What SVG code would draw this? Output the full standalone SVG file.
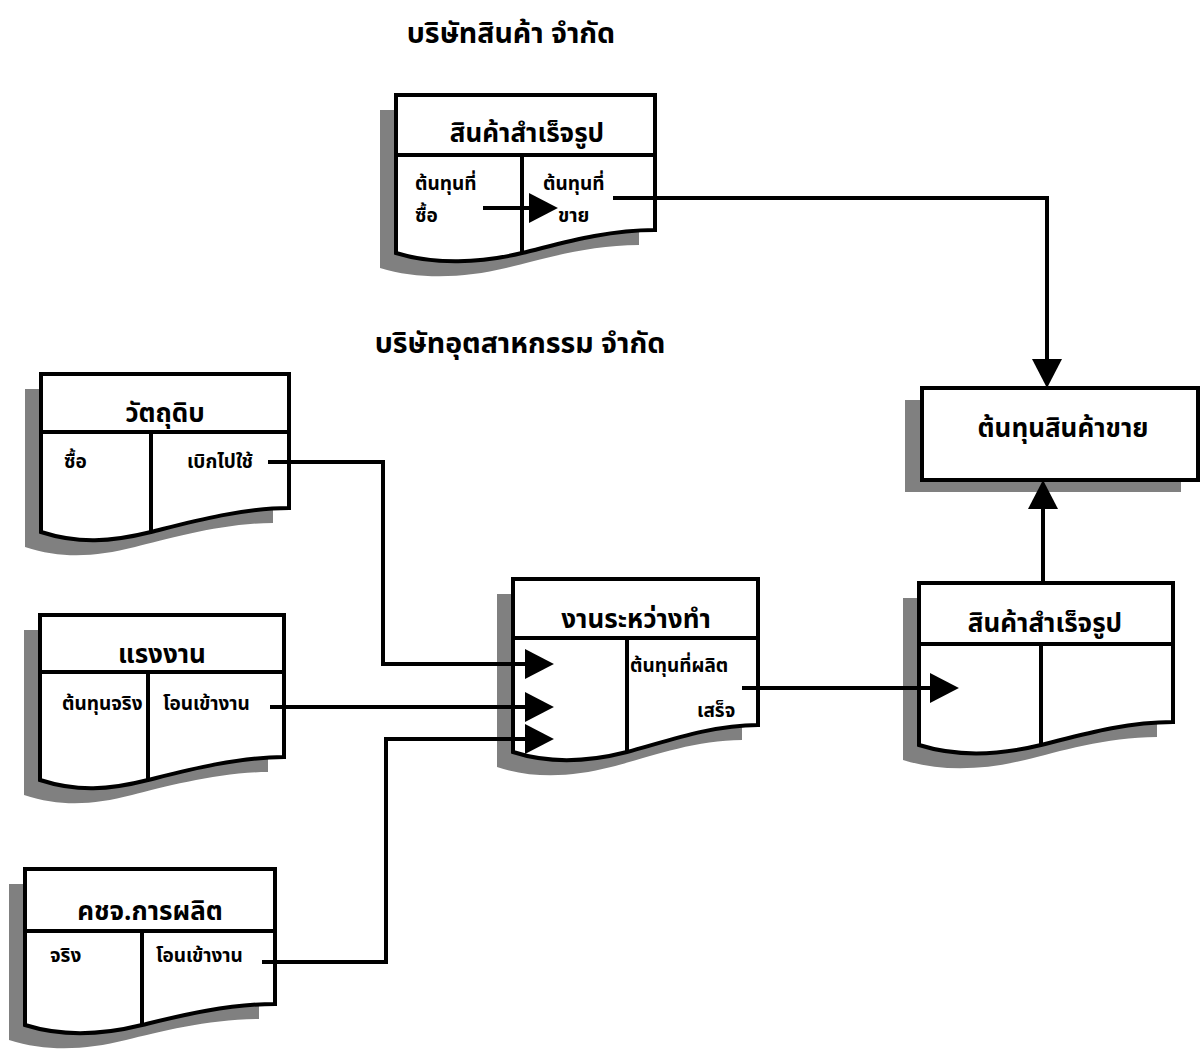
<svg xmlns="http://www.w3.org/2000/svg" xmlns:xlink="http://www.w3.org/1999/xlink" width="1200" height="1053" viewBox="0 0 1200 1053">
<style>
text{font-family:"Noto Sans Thai","Noto Sans","DejaVu Sans",sans-serif;font-weight:bold;fill:#000}
.title{font-size:28.5px;text-anchor:middle}
.hdr{font-size:26px;text-anchor:middle}
.cell{font-size:19px}
.shadow{fill:#808080;stroke:none}
.box{fill:#fff;stroke:#000;stroke-width:4;stroke-linejoin:miter}
.div{fill:none;stroke:#000;stroke-width:4}
.conn{fill:none;stroke:#000;stroke-width:4}
</style>
<defs>
<marker id="arr" markerUnits="userSpaceOnUse" markerWidth="30" markerHeight="30" refX="0" refY="14" orient="auto" viewBox="0 0 28 28">
<path d="M0,0 L27,14 L0,28 Z" fill="#000"/>
</marker>
<path id="p1" d="M396,95 H655 V230 C603,230 556,245 522,253 C481,263 435,265 396,253 Z"/>
<path id="p2" d="M41,374 H289 V508 C239,508 183,524 151,532 C111,542 78,544 41,532 Z"/>
<path id="p3" d="M40,615 H284 V757 C235,757 180,772 148,780 C109,790 77,792 40,780 Z"/>
<path id="p4" d="M25,869 H275 V1004 C225,1004 175,1017 142,1025 C102,1035 63,1037 25,1025 Z"/>
<path id="p5" d="M513,579 H758 V725 C709,725 659,744 627,752 C588,762 550,764 513,752 Z"/>
<path id="p6" d="M919,583 H1173 V722 C1122,722 1074,737 1041,745 C1000,755 957,757 919,745 Z"/>
</defs>
<rect width="1200" height="1053" fill="#fff"/>
<text class="title" x="511" y="43">บริษัทสินค้า จำกัด</text>
<text class="title" x="520" y="353">บริษัทอุตสาหกรรม จำกัด</text>

<g id="node-fg-trade">
<use xlink:href="#p1" class="shadow" transform="translate(-16,15)"/>
<use xlink:href="#p1" class="box"/>
<path class="div" d="M396,155 H655 M522,155 V253"/>
<text class="hdr" x="527" y="142">สินค้าสำเร็จรูป</text>
<text class="cell" x="415" y="190">ต้นทุนที่</text>
<text class="cell" x="415" y="222">ซื้อ</text>
<text class="cell" x="543" y="190">ต้นทุนที่</text>
<text class="cell" x="558" y="222">ขาย</text>
</g>

<g id="node-raw">
<use xlink:href="#p2" class="shadow" transform="translate(-16,15)"/>
<use xlink:href="#p2" class="box"/>
<path class="div" d="M41,432 H289 M151,432 V532"/>
<text class="hdr" x="165" y="422">วัตถุดิบ</text>
<text class="cell" x="64" y="468">ซื้อ</text>
<text class="cell" x="187" y="468">เบิกไปใช้</text>
</g>

<g id="node-labor">
<use xlink:href="#p3" class="shadow" transform="translate(-16,15)"/>
<use xlink:href="#p3" class="box"/>
<path class="div" d="M40,672 H284 M148,672 V780"/>
<text class="hdr" x="162" y="663">แรงงาน</text>
<text class="cell" x="62" y="710">ต้นทุนจริง</text>
<text class="cell" x="163" y="710">โอนเข้างาน</text>
</g>

<g id="node-overhead">
<use xlink:href="#p4" class="shadow" transform="translate(-16,15)"/>
<use xlink:href="#p4" class="box"/>
<path class="div" d="M25,931 H275 M142,931 V1025"/>
<text class="hdr" x="150" y="920">คชจ.การผลิต</text>
<text class="cell" x="50" y="962">จริง</text>
<text class="cell" x="156" y="962">โอนเข้างาน</text>
</g>

<g id="node-wip">
<use xlink:href="#p5" class="shadow" transform="translate(-16,15)"/>
<use xlink:href="#p5" class="box"/>
<path class="div" d="M513,638 H758 M627,638 V752"/>
<text class="hdr" x="636" y="628">งานระหว่างทำ</text>
<text class="cell" x="630" y="672">ต้นทุนที่ผลิต</text>
<text class="cell" x="697" y="717">เสร็จ</text>
</g>

<g id="node-fg-mfg">
<use xlink:href="#p6" class="shadow" transform="translate(-16,15)"/>
<use xlink:href="#p6" class="box"/>
<path class="div" d="M919,644 H1173 M1041,644 V745"/>
<text class="hdr" x="1045" y="632">สินค้าสำเร็จรูป</text>
</g>

<g id="node-cogs">
<rect class="shadow" x="905" y="400" width="276" height="92"/>
<rect class="box" x="922" y="388" width="276" height="92"/>
<text class="hdr" x="1063" y="437">ต้นทุนสินค้าขาย</text>
</g>

<g id="connectors">
<path class="conn" d="M483,208 H529" marker-end="url(#arr)"/>
<path class="conn" d="M613,198 H1047 V359" marker-end="url(#arr)"/>
<path class="conn" d="M268,462 H383 V664 H525" marker-end="url(#arr)"/>
<path class="conn" d="M270,707 H525" marker-end="url(#arr)"/>
<path class="conn" d="M262,962 H386 V739 H525" marker-end="url(#arr)"/>
<path class="conn" d="M742,688 H930" marker-end="url(#arr)"/>
<path class="conn" d="M1043,583 V509" marker-end="url(#arr)"/>
</g>
</svg>
